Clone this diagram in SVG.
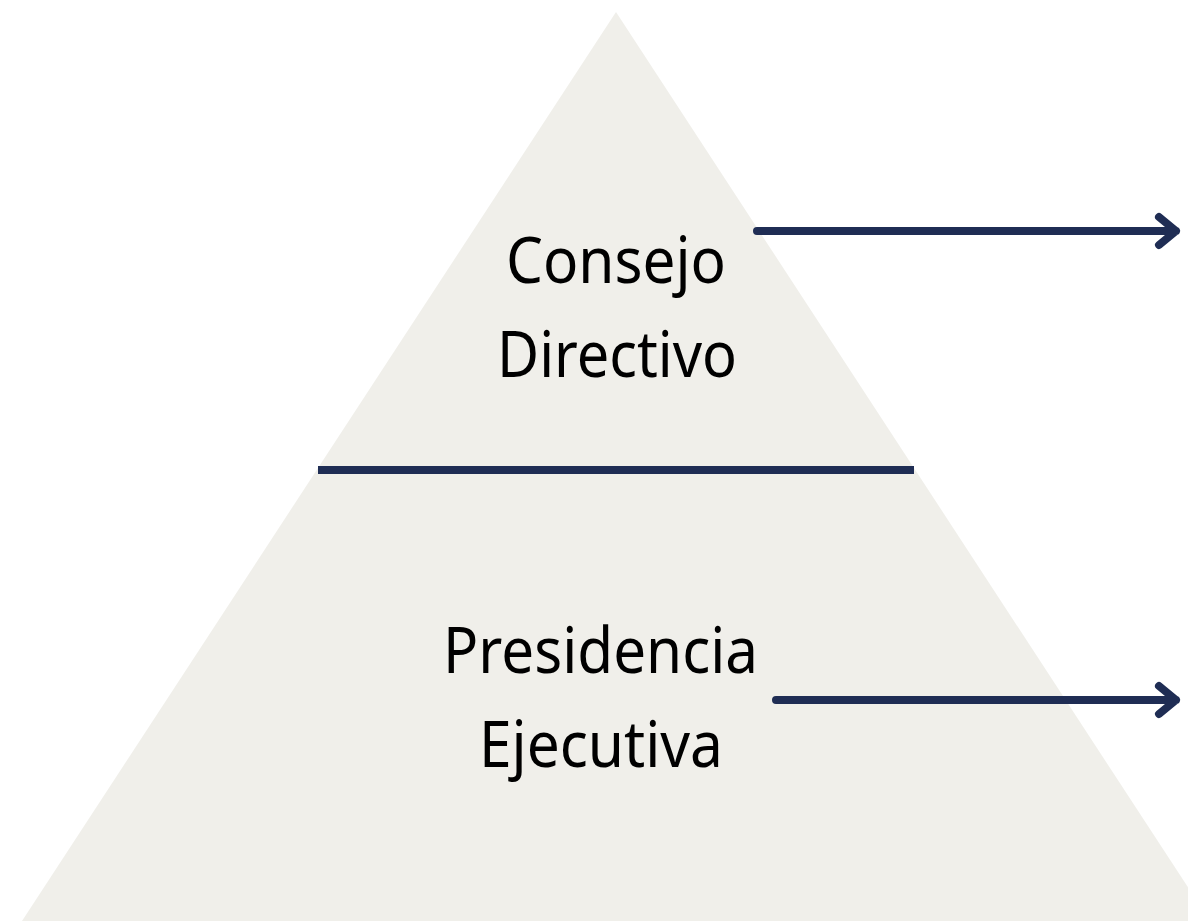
<svg xmlns="http://www.w3.org/2000/svg" width="1188" height="921" viewBox="0 0 1188 921">
<style>
.lbl{font-family:"Noto Sans","Liberation Sans",sans-serif;font-size:64px;fill:#000;}
.ln{stroke:#1f2d54;stroke-width:8;fill:none;stroke-linecap:round;stroke-linejoin:round;}
</style>
<rect width="1188" height="921" fill="#fff"/>
<g id="pyramid">
<polygon points="616,12 1210,921 22,921" fill="#f0efea"/>
</g>
<g id="connectors">
<line x1="318" y1="470" x2="914" y2="470" stroke="#1f2d54" stroke-width="8"/>
<path class="ln" d="M757,231 H1176 M1159,217 L1176,231 L1159,245"/>
<path class="ln" d="M776,700 H1176 M1159,686 L1176,700 L1159,714"/>
</g>
<g id="node-consejo">
<text class="lbl" x="506" y="283" textLength="220" lengthAdjust="spacingAndGlyphs">Consejo</text>
<text class="lbl" x="497" y="377" textLength="240" lengthAdjust="spacingAndGlyphs">Directivo</text>
</g>
<g id="node-presidencia">
<text class="lbl" x="443" y="673" textLength="315" lengthAdjust="spacingAndGlyphs">Presidencia</text>
<text class="lbl" x="479" y="767" textLength="244" lengthAdjust="spacingAndGlyphs">Ejecutiva</text>
</g>
</svg>
